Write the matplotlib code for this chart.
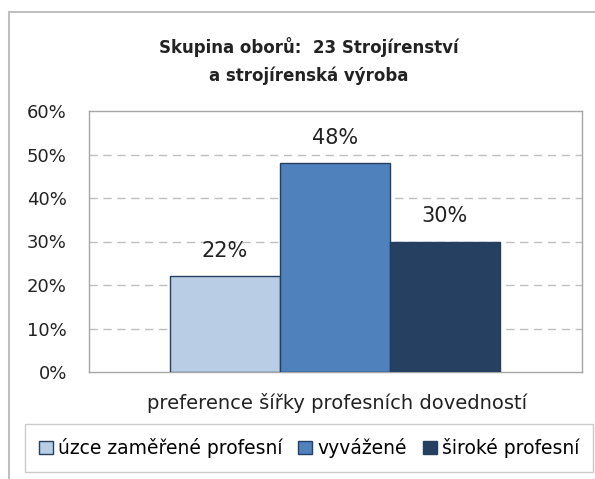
import numpy as np
import matplotlib.pyplot as plt
from matplotlib.patches import Rectangle
from matplotlib.ticker import PercentFormatter

# data
series = ['úzce zaměřené profesní', 'vyvážené', 'široké profesní']
values = [0.22, 0.48, 0.30]
colors = ['#B9CDE5', '#4F81BD', '#254061']
category = 'preference šířky profesních dovedností'
title = 'Skupina oborů:  23 Strojírenství\na strojírenská výroba'
yticks = [0.0, 0.1, 0.2, 0.3, 0.4, 0.5, 0.6]

W, H = 595, 479
fig = plt.figure(figsize=(W / 100, H / 100), dpi=100)
plt.rcParams['font.family'] = ['DejaVu Sans']
txt = '#222222'

# outer chart frame (runs off the right and bottom edge)
fig.add_artist(Rectangle((9 / W, -0.1), 1.2, 1 - 12 / H + 0.1,
                         transform=fig.transFigure, fill=False,
                         edgecolor='#C0C0C0', linewidth=1.5))

# plot area in pixels: left 89, right 582, top 111, bottom 372
ax = fig.add_axes([89 / W, 1 - 372 / H, (582 - 89) / W, (372 - 111) / H])

bar_w = 1.0
x = np.arange(len(values)) - 1
bars = []
for xi, v, c, s in zip(x, values, colors, series):
    b = ax.bar(xi, v, width=bar_w, color=c, edgecolor='#243F60',
               linewidth=1, label=s, zorder=3)
    bars.append(b)
    ax.annotate(f'{v:.0%}', (xi, v), xytext=(0, 18), textcoords='offset points',
                ha='center', va='center', fontsize=15, color=txt, zorder=4)

px_per_unit = 110.0
ax.set_xlim(-(335 - 89) / px_per_unit, (582 - 335) / px_per_unit)
ax.set_ylim(0, 0.6)
ax.set_yticks(yticks)
ax.yaxis.set_major_formatter(PercentFormatter(1.0, decimals=0))
ax.tick_params(axis='y', length=0, pad=16, labelsize=13, labelcolor=txt)
ax.set_xticks([])
for yv in yticks[1:-1]:
    ax.axhline(yv, color='#BFBFBF', linewidth=1, linestyle=(0, (6, 4)), zorder=1)
for sp in ax.spines.values():
    sp.set_color('#A6A6A6')
    sp.set_linewidth(1)

fig.text(337 / W, 1 - 403 / H, category, ha='center', va='center',
         fontsize=14, color=txt)
fig.text(309 / W, 1 - 61 / H, title, ha='center', va='center',
         fontsize=12, fontweight='bold', color=txt, linespacing=1.65)

leg = fig.legend(handles=[b[0] for b in bars], labels=series,
                 loc='center', ncol=3,
                 bbox_to_anchor=((25 + 593) / 2 / W, 1 - 448 / H),
                 bbox_transform=fig.transFigure,
                 fontsize=13.5, frameon=True, fancybox=False,
                 handlelength=0.75, handleheight=0.75, handletextpad=0.27,
                 columnspacing=0.85, borderpad=0.75, borderaxespad=0)
leg.get_frame().set_edgecolor('#BFBFBF')
leg.get_frame().set_linewidth(1)

fig.savefig('out.png', dpi=100)
